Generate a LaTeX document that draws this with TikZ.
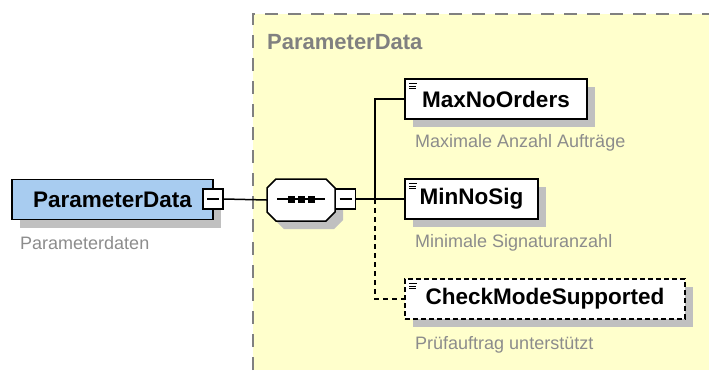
\documentclass[tikz,border=0pt]{standalone}
\usepackage{fontspec}
\setmainfont{Liberation Sans}
\usetikzlibrary{shadows}
\definecolor{areayellow}{RGB}{255,255,204}
\definecolor{rootblue}{RGB}{168,204,240}
\definecolor{shadowgray}{RGB}{192,192,192}
\definecolor{notegray}{RGB}{140,140,140}
\tikzset{
	elem/.style={draw, line width=1.8pt, fill=white, minimum height=40pt, inner sep=0pt,
		font=\fontsize{22.5}{26}\selectfont\bfseries,
		drop shadow={shadow xshift=8pt, shadow yshift=-8pt, fill=shadowgray, opacity=1},
		path picture={\draw[solid, line width=0.9pt] ([shift={(4pt,-4.5pt)}]path picture bounding box.north west) -- ++(8pt,0pt) ++(-8pt,-2.5pt) -- ++(7pt,0pt) ++(-7pt,-2.5pt) -- ++(7pt,0pt);}},
	toggle/.style={draw, line width=1.5pt, fill=white, minimum size=20pt, inner sep=0pt,
		path picture={\draw[line width=1.3pt] ([xshift=4pt]path picture bounding box.west) -- ([xshift=-4pt]path picture bounding box.east);}},
	note/.style={anchor=west, text=notegray, inner sep=0pt, font=\fontsize{18}{21}\selectfont},
	wire/.style={line width=1.5pt},
	optwire/.style={wire, dash pattern=on 5pt off 4pt}
}
\begin{document}
\begin{tikzpicture}[x=1pt, y=-1pt]
	% Paths, nodes and wires:
	\useasboundingbox (0,0) rectangle (709,370);
	\fill[areayellow] (253,14) rectangle (709,370);
	\draw[gray, line width=2pt, dash pattern=on 13pt off 10pt] (253,370) -- (253,14) -- (709,14);
	\node[anchor=west, text=gray, inner sep=0pt, font=\fontsize{22}{26}\selectfont\bfseries] (title) at (267,42) {ParameterData};

	\node[elem, fill=rootblue, minimum width=201pt, path picture={}] (root) at (112.5,199.5) {ParameterData\hspace{12pt}};
	\node[note] (rootnote) at (20,243) {Parameterdaten};
	\node[toggle] (rootminus) at (213,199) {};

	\node[minimum width=68pt, minimum height=42pt, inner sep=0pt] (seq) at (301,200) {};
	\draw[line width=1.5pt, fill=white, drop shadow={shadow xshift=8pt, shadow yshift=-8pt, fill=shadowgray, opacity=1}]
		(276,179) -- (326,179) -- (335,188) -- (335,212) -- (326,221) -- (276,221) -- (267,212) -- (267,188) -- cycle;
	\draw[wire] (277,199) -- (325,199);
	\foreach \sx in {291.5, 301.5, 311.5}
		\fill (\sx-3.5,195.5) rectangle (\sx+3.5,202.5);
	\node[toggle] (seqminus) at (345.5,199) {};

	\node[elem, minimum width=182pt] (maxorders) at (496,99) {MaxNoOrders};
	\node[note] (maxnote) at (415,143) {Maximale Anzahl Aufträge};
	\node[elem, minimum width=133pt] (minsig) at (471.5,199) {MinNoSig};
	\node[note] (minnote) at (415,243) {Minimale Signaturanzahl};
	\node[elem, dash pattern=on 5pt off 3pt, minimum width=280pt] (checkmode) at (545,299) {CheckModeSupported};
	\node[note] (checknote) at (415,345) {Prüfauftrag unterstützt};

	\coordinate (bus) at (375,199);
	\draw[wire] (rootminus.east) -- (seq.west);
	\draw[wire] (seqminus.east) -- (bus) -- (minsig.west);
	\draw[wire] (bus) |- (maxorders.west);
	\draw[optwire] (bus) |- (checkmode.west);
\end{tikzpicture}
\end{document}
